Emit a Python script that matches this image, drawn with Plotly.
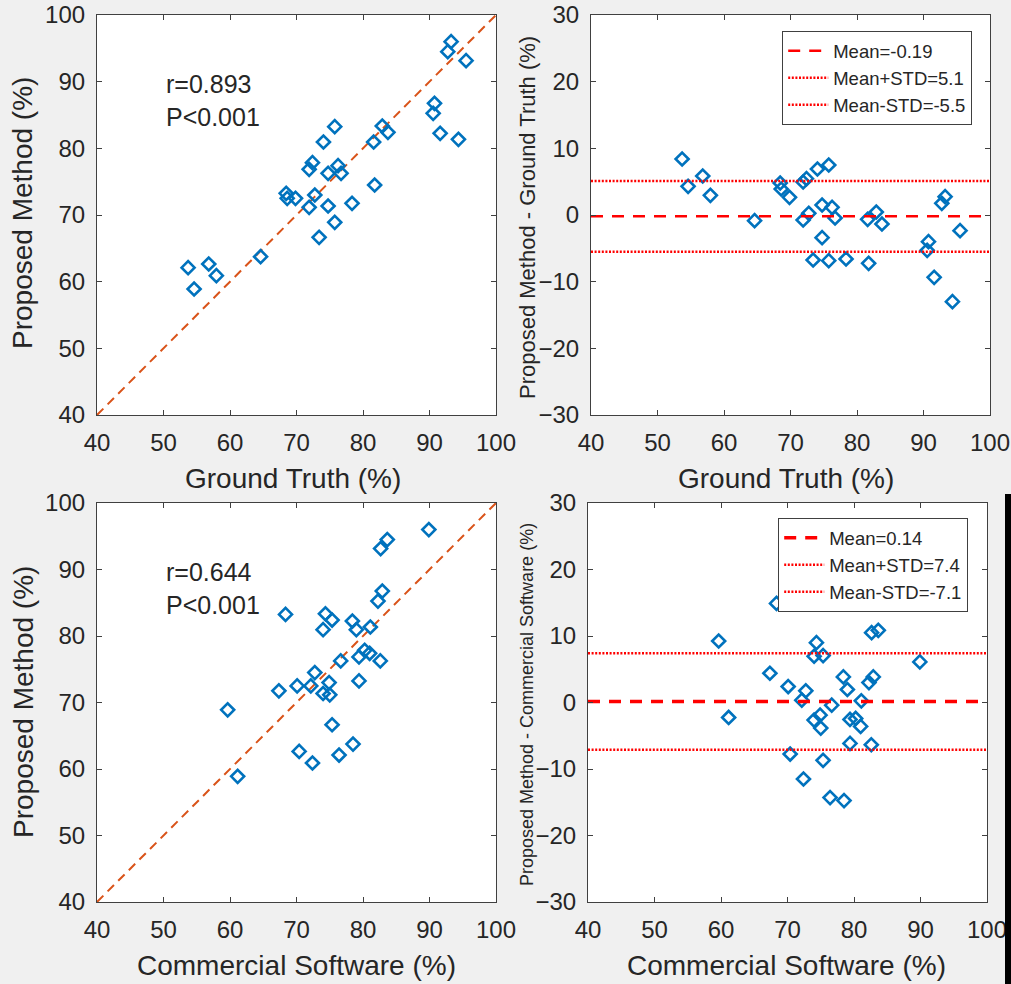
import plotly.graph_objects as go

# Ejection fraction readings (%) for 32 cases
ground_truth = [93.25, 92.75, 95.5, 90.75, 90.55, 91.6, 94.35, 75.75, 82.9, 83.75,
                81.6, 74.05, 72.4, 71.9, 76.25, 74.75, 76.7, 81.75, 68.45, 68.6,
                69.85, 72.75, 71.9, 74.75, 78.35, 75.75, 73.4, 64.6, 53.7, 56.8,
                57.95, 54.6]
proposed = [96.0, 94.5, 93.15, 86.75, 85.25, 82.25, 81.35, 83.25, 83.35, 82.4,
            80.95, 80.95, 77.85, 76.85, 77.4, 76.25, 76.25, 74.5, 73.25, 72.5,
            72.5, 73.0, 71.15, 71.35, 71.75, 68.9, 66.65, 63.75, 62.1, 62.65,
            60.9, 58.9]
commercial = [89.9, 83.65, 82.65, 82.9, 82.25, 78.4, 81.1, 68.35, 74.35, 75.35,
              79.0, 74.0, 80.25, 79.4, 81.0, 82.6, 76.65, 72.75, 79.4, 70.1,
              72.15, 74.9, 75.0, 74.0, 67.35, 59.65, 75.35, 78.5, 76.4, 70.4,
              72.4, 61.15]

# Correlation statistics
corr_gt = ["r=0.893", "P<0.001"]
corr_cs = ["r=0.644", "P<0.001"]

# Bland-Altman limits
ba_gt = {"mean": -0.19, "upper": 5.1, "lower": -5.5}
ba_cs = {"mean": 0.14, "upper": 7.4, "lower": -7.1}

scatter_ticks = [40, 50, 60, 70, 80, 90, 100]
diff_ticks = [-30, -20, -10, 0, 10, 20, 30]

W, H = 1011, 984
BLUE = "#0072BD"
ORANGE = "#D95319"
AXC = "#404040"
TXT = "#262626"
FONT = "Liberation Sans, Arial, sans-serif"

diff_gt = [p - g for p, g in zip(proposed, ground_truth)]
diff_cs = [p - c for p, c in zip(proposed, commercial)]


def px_dom_x(a, b):
    return [a / W, b / W]


def px_dom_y(top, bottom):
    return [1 - bottom / H, 1 - top / H]


fig = go.Figure()

marker = dict(symbol="diamond-open", size=10, color=BLUE, line=dict(width=2.6, color=BLUE))

# Panel 1: proposed vs ground truth
fig.add_trace(go.Scatter(x=[40, 100], y=[40, 100], mode="lines",
                         line=dict(color=ORANGE, width=2, dash="9px,6px"),
                         xaxis="x", yaxis="y", showlegend=False))
fig.add_trace(go.Scatter(x=ground_truth, y=proposed, mode="markers", marker=marker,
                         xaxis="x", yaxis="y", showlegend=False))

# Panel 2: Bland-Altman vs ground truth
fig.add_trace(go.Scatter(x=ground_truth, y=diff_gt, mode="markers", marker=marker,
                         xaxis="x2", yaxis="y2", showlegend=False))
fig.add_trace(go.Scatter(x=[40, 100], y=[ba_gt["mean"]] * 2, mode="lines",
                         line=dict(color="#ff0000", width=2.5, dash="12px,9px"),
                         name=f"Mean={ba_gt['mean']}", xaxis="x2", yaxis="y2",
                         legend="legend"))
fig.add_trace(go.Scatter(x=[40, 100], y=[ba_gt["upper"]] * 2, mode="lines",
                         line=dict(color="#ff0000", width=2.5, dash="2px,1.6px"),
                         name=f"Mean+STD={ba_gt['upper']}", xaxis="x2", yaxis="y2",
                         legend="legend"))
fig.add_trace(go.Scatter(x=[40, 100], y=[ba_gt["lower"]] * 2, mode="lines",
                         line=dict(color="#ff0000", width=2.5, dash="2px,1.6px"),
                         name=f"Mean-STD={ba_gt['lower']}", xaxis="x2", yaxis="y2",
                         legend="legend"))

# Panel 3: proposed vs commercial software
fig.add_trace(go.Scatter(x=[40, 100], y=[40, 100], mode="lines",
                         line=dict(color=ORANGE, width=2, dash="9px,6px"),
                         xaxis="x3", yaxis="y3", showlegend=False))
fig.add_trace(go.Scatter(x=commercial, y=proposed, mode="markers", marker=marker,
                         xaxis="x3", yaxis="y3", showlegend=False))

# Panel 4: Bland-Altman vs commercial software
fig.add_trace(go.Scatter(x=commercial, y=diff_cs, mode="markers", marker=marker,
                         xaxis="x4", yaxis="y4", showlegend=False))
fig.add_trace(go.Scatter(x=[40, 100], y=[ba_cs["mean"]] * 2, mode="lines",
                         line=dict(color="#ff0000", width=3.5, dash="12px,9px"),
                         name=f"Mean={ba_cs['mean']}", xaxis="x4", yaxis="y4",
                         legend="legend2"))
fig.add_trace(go.Scatter(x=[40, 100], y=[ba_cs["upper"]] * 2, mode="lines",
                         line=dict(color="#ff0000", width=2.5, dash="2px,1.6px"),
                         name=f"Mean+STD={ba_cs['upper']}", xaxis="x4", yaxis="y4",
                         legend="legend2"))
fig.add_trace(go.Scatter(x=[40, 100], y=[ba_cs["lower"]] * 2, mode="lines",
                         line=dict(color="#ff0000", width=2.5, dash="2px,1.6px"),
                         name=f"Mean-STD={ba_cs['lower']}", xaxis="x4", yaxis="y4",
                         legend="legend2"))


def axis(dom, anchor, rng, ticks):
    return dict(domain=dom, anchor=anchor, range=rng, tickvals=ticks,
                showline=True, linecolor=AXC, linewidth=1.2, mirror="ticks",
                ticks="inside", ticklen=5, tickwidth=1, tickcolor=AXC,
                showgrid=False, zeroline=False, fixedrange=True, automargin=False,
                ticklabelstandoff=6,
                tickfont=dict(family=FONT, size=24, color=TXT))


xl, xr = px_dom_x(97, 496), px_dom_x(591, 990)
xbr = px_dom_x(588, 987)
yt, yb = px_dom_y(15, 415), px_dom_y(503, 902)

legend_style = dict(font=dict(family=FONT, size=18.5, color=TXT), bgcolor="white",
                    bordercolor=AXC, borderwidth=1.2, xanchor="left", yanchor="top",
                    itemwidth=40, tracegroupgap=0)

fig.update_layout(
    width=W, height=H,
    margin=dict(l=0, r=0, t=0, b=0, pad=0, autoexpand=False),
    paper_bgcolor="#f0f0f0", plot_bgcolor="white",
    xaxis=axis(xl, "y", [40, 100], scatter_ticks),
    yaxis=axis(yt, "x", [40, 100], scatter_ticks),
    xaxis2=axis(xr, "y2", [40, 100], scatter_ticks),
    yaxis2=axis(yt, "x2", [-30, 30], diff_ticks),
    xaxis3=axis(xl, "y3", [40, 100], scatter_ticks),
    yaxis3=axis(yb, "x3", [40, 100], scatter_ticks),
    xaxis4=axis(xbr, "y4", [40, 100], scatter_ticks),
    yaxis4=axis(yb, "x4", [-30, 30], diff_ticks),
    legend=dict(x=782 / W, y=1 - 31 / H, **legend_style),
    legend2=dict(x=778 / W, y=1 - 518 / H, **legend_style),
    showlegend=True,
)

ann = []


def label(text, xpx, ypx, size, angle=0):
    ann.append(dict(text=text, x=xpx / W, y=1 - ypx / H, xref="paper", yref="paper",
                    showarrow=False, xanchor="center", yanchor="middle",
                    textangle=angle, font=dict(family=FONT, size=size, color=TXT)))


label("Ground Truth (%)", 293, 478, 28)
label("Ground Truth (%)", 786, 478, 28)
label("Commercial Software (%)", 296, 965, 28)
label("Commercial Software (%)", 786, 965, 28)
label("Proposed Method (%)", 23, 213, 28, -90)
label("Proposed Method - Ground Truth (%)", 527, 218, 22, -90)
label("Proposed Method (%)", 23, 702, 28, -90)
label("Proposed Method - Commercial Software (%)", 527, 705, 18, -90)

for lines, xa, ya in [(corr_gt, "x", "y"), (corr_cs, "x3", "y3")]:
    ann.append(dict(text="<br>".join(lines), x=50, y=87.2, xref=xa, yref=ya,
                    showarrow=False, xanchor="left", yanchor="middle", align="left",
                    font=dict(family=FONT, size=25, color=TXT)))

fig.update_layout(annotations=ann)

# dark strip along the lower right edge
fig.add_shape(type="rect", xref="paper", yref="paper", x0=1005 / W, x1=1,
              y0=0, y1=1 - 494 / H, fillcolor="black", line=dict(width=0), layer="above")

fig.write_html("out.html")
